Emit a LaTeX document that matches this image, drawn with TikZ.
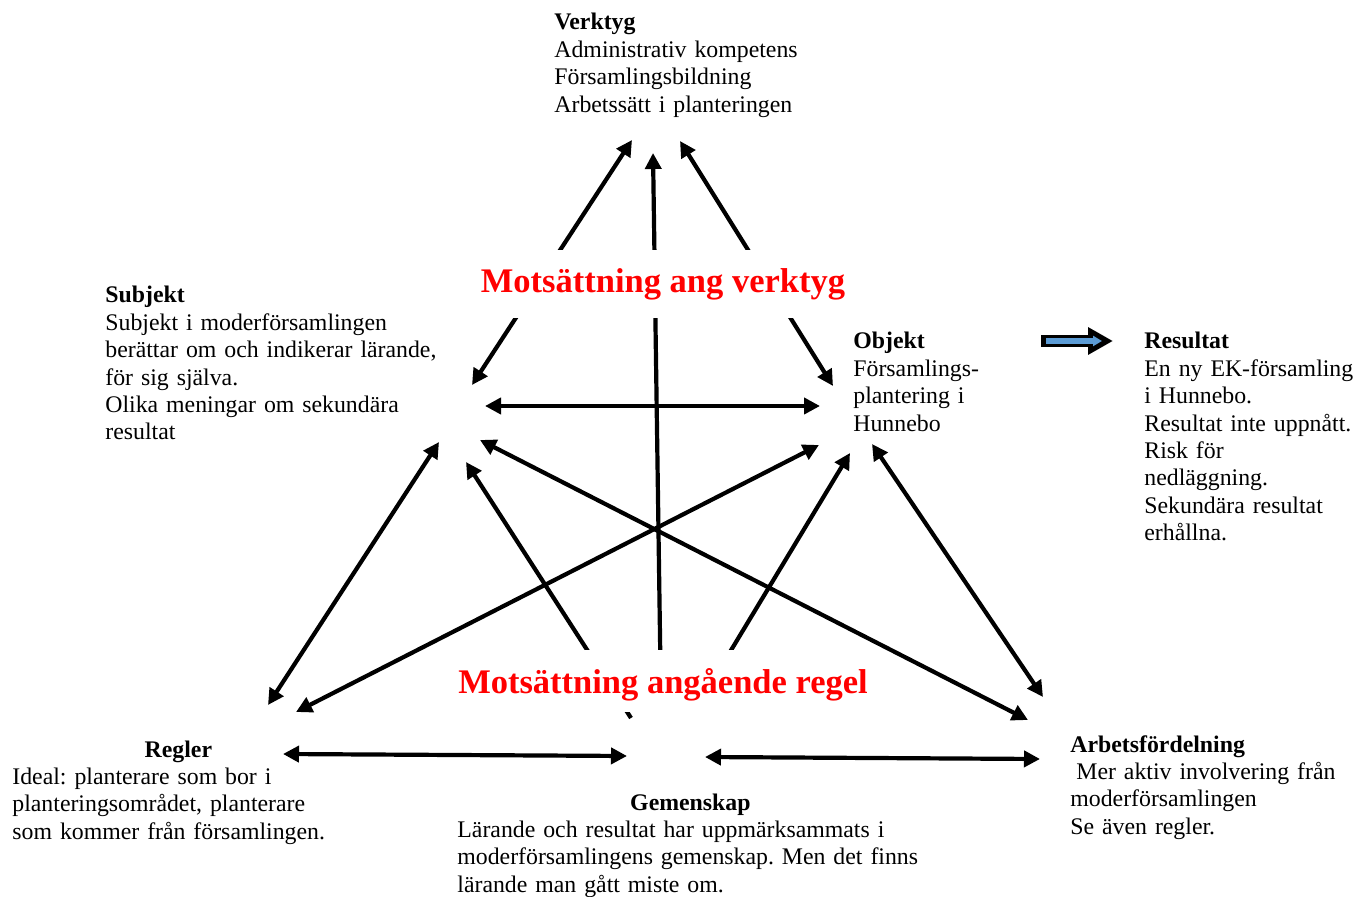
\documentclass[tikz,border=0pt]{standalone}
\usepackage{fontspec}
\setmainfont{Liberation Serif}
\usetikzlibrary{arrows.meta}
\definecolor{arrowblue}{RGB}{91,155,213}
\frenchspacing
\begin{document}
\begin{tikzpicture}[x=0.5pt,y=-0.5pt,
  conn/.style={line width=2.1pt},
  both/.style={conn,{Triangle[length=8pt,width=8pt]}-{Triangle[length=8pt,width=8pt]}},
  one/.style={conn,-{Triangle[length=8pt,width=8pt]}},
  txt/.style={anchor=base west, inner sep=0pt, align=left, text width=#1, font=\frenchspacing\fontsize{11.9pt}{13.7pt}\selectfont},
  redlab/.style={anchor=base, fill=white, inner xsep=2pt, inner ysep=0pt, text=red, font=\bfseries\fontsize{17.25pt}{20pt}\selectfont}]
\useasboundingbox (0,0) rectangle (1364,897);

% arrow end points
\coordinate (verk-l) at (632,140);
\coordinate (verk-m) at (653,153);
\coordinate (verk-r) at (680,141);
\coordinate (subj-t) at (472,385);
\coordinate (subj-h) at (485,406);
\coordinate (subj-bl) at (439,442);
\coordinate (subj-b) at (466,462);
\coordinate (subj-br) at (480,440);
\coordinate (obj-t) at (833,386);
\coordinate (obj-h) at (820,406);
\coordinate (obj-bl) at (819,445);
\coordinate (obj-b) at (850,453);
\coordinate (obj-br) at (872,444);
\coordinate (reg-t) at (268,705);
\coordinate (reg-r) at (296,712);
\coordinate (reg-h) at (283,754);
\coordinate (gem-l) at (631,718);
\coordinate (gem-m) at (661,705);
\coordinate (gem-r) at (698,705);
\coordinate (gem-hl) at (627,756);
\coordinate (gem-hr) at (705,757);
\coordinate (arb-t) at (1043,697);
\coordinate (arb-l) at (1028,720);
\coordinate (arb-h) at (1040,759);
\coordinate (res-s) at (1041,341);
\coordinate (res-e) at (1113,341);
\coordinate (res-bs) at (1046,341);
\coordinate (res-be) at (1102,341);

% connectors
\draw[both] (subj-t) -- (verk-l);
\draw[both] (obj-t) -- (verk-r);
\draw[one] (gem-m) -- (verk-m);
\draw[both] (subj-h) -- (obj-h);
\draw[both] (reg-t) -- (subj-bl);
\draw[both] (reg-r) -- (obj-bl);
\draw[one] (gem-l) -- (subj-b);
\draw[both] (subj-br) -- (arb-l);
\draw[one] (gem-r) -- (obj-b);
\draw[both] (obj-br) -- (arb-t);
\draw[both] (reg-h) -- (gem-hl);
\draw[both] (gem-hr) -- (arb-h);

% result arrow
\draw[line width=6pt, -{Triangle[length=12.5pt,width=13pt]}] (res-s) -- (res-e);
\draw[line width=3pt, arrowblue, -{Triangle[length=4.5pt,width=5pt]}] (res-bs) -- (res-be);

% red labels
\node[redlab, text height=21.5pt, text depth=12.5pt] (mv) at (663,293) {Motsättning ang verktyg};
\node[redlab, text height=21.5pt, text depth=9.5pt] (mr) at (663,693) {Motsättning angående regel};

% text nodes
\node[txt=250pt] (verktyg) at (554,30) {\textbf{Verktyg}\\Administrativ kompetens\\Församlingsbildning\\Arbetssätt i planteringen};
\node[txt=200pt] (subjekt) at (105,303) {\textbf{Subjekt}\\Subjekt i moderförsamlingen\\berättar om och indikerar lärande,\\för sig själva.\\Olika meningar om sekundära\\resultat};
\node[txt=100pt] (objekt) at (853,349) {\textbf{Objekt}\\Församlings-\\plantering i\\Hunnebo};
\node[txt=120pt] (resultat) at (1144,349) {\textbf{Resultat}\\En ny EK-församling\\i Hunnebo.\\Resultat inte uppnått.\\Risk för\\nedläggning.\\Sekundära resultat\\erhållna.};
\node[txt=170pt] (regler) at (12,757) {\makebox[166pt]{\textbf{Regler}}\\Ideal: planterare som bor i\\planteringsområdet, planterare\\som kommer från församlingen.};
\node[txt=240pt] (gemenskap) at (457,810) {\makebox[233pt]{\textbf{Gemenskap}}\\Lärande och resultat har uppmärksammats i\\moderförsamlingens gemenskap. Men det finns\\lärande man gått miste om.};
\node[txt=150pt] (arbete) at (1070,752) {\textbf{Arbetsfördelning}\\\hspace*{3pt}Mer aktiv involvering från\\moderförsamlingen\\Se även regler.};
\end{tikzpicture}
\end{document}
